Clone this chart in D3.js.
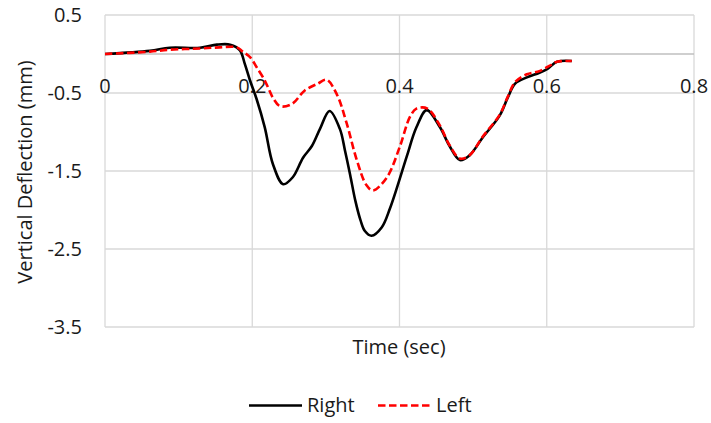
<!DOCTYPE html>
<html><head><meta charset="utf-8">
<script src="https://cdn.jsdelivr.net/npm/d3@7"></script>
<style>body{margin:0;background:#fff}text{font-family:"Open Sans",sans-serif;fill:#1a1a1a}</style>
</head><body><svg id="c" width="711" height="423"></svg>
<script>
const xTicks = [0, 0.2, 0.4, 0.6, 0.8];
const yTicks = [0.5, -0.5, -1.5, -2.5, -3.5];
const rightT = [0,0.061,0.088,0.129,0.152,0.170,0.183,0.190,0.197,0.206,0.217,0.228,0.242,0.255,0.269,0.281,0.292,0.305,0.319,0.326,0.333,0.340,0.347,0.353,0.362,0.376,0.387,0.397,0.410,0.423,0.437,0.455,0.468,0.482,0.495,0.513,0.536,0.547,0.557,0.573,0.590,0.601,0.614,0.634];
const rightV = [0,0.04,0.08,0.08,0.12,0.12,0.05,-0.13,-0.34,-0.58,-0.94,-1.41,-1.67,-1.58,-1.33,-1.18,-0.96,-0.73,-0.96,-1.24,-1.55,-1.88,-2.13,-2.27,-2.33,-2.22,-1.98,-1.70,-1.31,-0.94,-0.72,-0.94,-1.18,-1.36,-1.30,-1.07,-0.79,-0.56,-0.38,-0.30,-0.24,-0.19,-0.10,-0.09];
const leftT = [0,0.061,0.088,0.129,0.156,0.179,0.187,0.197,0.206,0.217,0.222,0.228,0.238,0.254,0.271,0.289,0.301,0.315,0.328,0.342,0.355,0.364,0.383,0.400,0.414,0.423,0.438,0.455,0.468,0.482,0.495,0.513,0.536,0.547,0.557,0.573,0.590,0.604,0.614,0.634];
const leftV = [0,0.03,0.055,0.07,0.085,0.085,0.03,-0.04,-0.17,-0.34,-0.44,-0.56,-0.67,-0.64,-0.47,-0.38,-0.33,-0.52,-0.88,-1.36,-1.68,-1.75,-1.58,-1.20,-0.81,-0.70,-0.70,-0.92,-1.17,-1.34,-1.30,-1.06,-0.78,-0.55,-0.36,-0.26,-0.22,-0.15,-0.10,-0.09];
const seriesNames = ["Right", "Left"];

const svg = d3.select("#c");
const x = d3.scaleLinear().domain([0, 0.8]).range([105, 694]);
const y = d3.scaleLinear().domain([-3.5, 0.5]).range([327, 15]);

// gridlines
svg.append("g").selectAll("line").data(yTicks).join("line")
  .attr("x1", 105).attr("x2", 694).attr("y1", d => y(d)).attr("y2", d => y(d))
  .attr("stroke", "#d9d9d9").attr("stroke-width", 1.3);
svg.append("g").selectAll("line").data(xTicks).join("line")
  .attr("y1", 15).attr("y2", 327).attr("x1", d => x(d)).attr("x2", d => x(d))
  .attr("stroke", "#d9d9d9").attr("stroke-width", 1.3);
// horizontal axis line at 0
svg.append("line").attr("x1", 105).attr("x2", 694).attr("y1", y(0)).attr("y2", y(0))
  .attr("stroke", "#bfbfbf").attr("stroke-width", 1.3);

// tick labels
svg.append("g").selectAll("text").data(yTicks).join("text")
  .attr("x", 82).attr("y", d => y(d)).attr("dy", "0.35em").attr("text-anchor", "end")
  .attr("font-size", 20).text(d => d);
svg.append("g").selectAll("text").data(xTicks).join("text")
  .attr("x", d => x(d)).attr("y", 86).attr("dy", "0.35em").attr("text-anchor", "middle")
  .attr("font-size", 20).text(d => d);

// titles
svg.append("text").attr("transform", "translate(25,172) rotate(-90)").attr("dy", "0.35em")
  .attr("text-anchor", "middle").attr("font-size", 20).text("Vertical Deflection (mm)");
svg.append("text").attr("x", 399).attr("y", 347).attr("dy", "0.35em")
  .attr("text-anchor", "middle").attr("font-size", 20).text("Time (sec)");

const line = d3.line().x(d => x(d[0])).y(d => y(d[1])).curve(d3.curveCatmullRom.alpha(0.5));
const rightData = rightT.map((t, i) => [t, rightV[i]]);
const leftData = leftT.map((t, i) => [t, leftV[i]]);
svg.append("path").attr("d", line(rightData)).attr("fill", "none").attr("stroke", "#000").attr("stroke-width", 2.6);
svg.append("path").attr("d", line(leftData)).attr("fill", "none").attr("stroke", "#ff0000").attr("stroke-width", 2.6)
  .attr("stroke-dasharray", "7.5,3.5");

// legend
const lg = svg.append("g");
lg.append("line").attr("x1", 249).attr("x2", 302).attr("y1", 405.5).attr("y2", 405.5).attr("stroke", "#000").attr("stroke-width", 2.6);
lg.append("text").attr("x", 307).attr("y", 405).attr("dy", "0.35em").attr("font-size", 20).text(seriesNames[0]);
lg.append("line").attr("x1", 378).attr("x2", 431).attr("y1", 405.5).attr("y2", 405.5).attr("stroke", "#ff0000").attr("stroke-width", 2.6).attr("stroke-dasharray", "7.5,3.5");
lg.append("text").attr("x", 436).attr("y", 405).attr("dy", "0.35em").attr("font-size", 20).text(seriesNames[1]);
</script></body></html>
